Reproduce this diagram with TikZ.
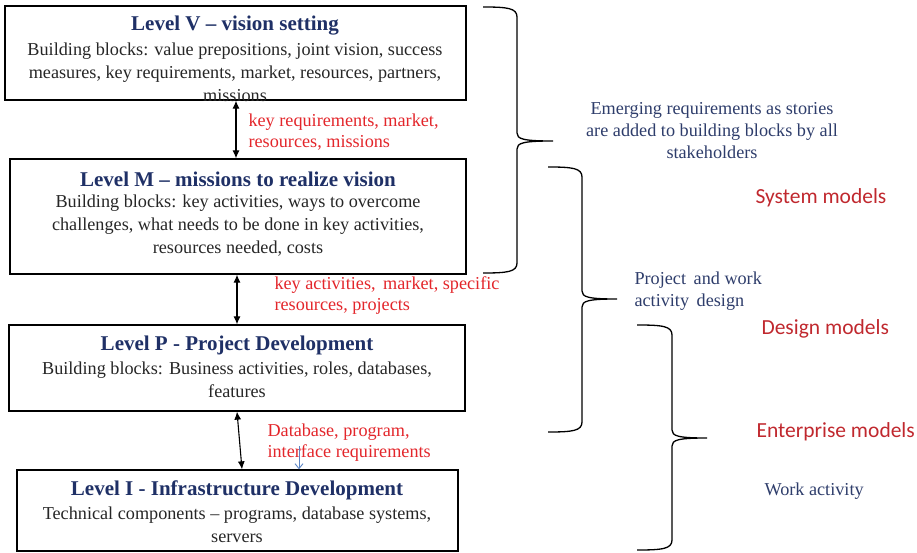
\documentclass[tikz,border=0pt]{standalone}
\usepackage{fontspec}
\setmainfont{Liberation Serif}
\newfontfamily\calib{Carlito}
\usetikzlibrary{arrows.meta}
\definecolor{navy}{HTML}{1F3066}
\definecolor{lblred}{HTML}{E3262B}
\definecolor{sansred}{HTML}{C0282E}
\definecolor{bluetext}{HTML}{2E3D6B}
\definecolor{bodygray}{HTML}{262626}
\definecolor{smallblue}{HTML}{5B84C4}
\newcommand\mybrace[6]{% x0, x1, xt, ytop, ymid, ybot
  \draw[bracel] (#1,#4) .. controls (#2-10,#4) and (#2,#4+1) .. (#2,#4+10)
    -- (#2,#5-8) .. controls (#2,#5-2) and (#2+6,#5) .. (#3,#5)
    .. controls (#2+6,#5) and (#2,#5+2) .. (#2,#5+8)
    -- (#2,#6-10) .. controls (#2,#6-1) and (#2-10,#6) .. (#1,#6);}
\begin{document}
\begin{tikzpicture}[x=1pt,y=-1pt]
\useasboundingbox (0,0) rectangle (917,553);
\tikzset{
 box/.style={draw=black, line width=1.3pt, inner sep=0pt},
 ttl/.style={font=\fontsize{21}{24}\selectfont\bfseries, text=navy},
 body/.style={font=\fontsize{18.2}{23}\selectfont, align=center, text=bodygray},
 lbl/.style={font=\fontsize{18.2}{21}\selectfont, align=left, text=lblred, anchor=west},
 note/.style={font=\fontsize{18.2}{22}\selectfont, text=bluetext},
 model/.style={font=\calib\fontsize{21.5}{24}\selectfont, text=sansred, anchor=west},
 conn/.style={{Latex[length=8pt,width=7pt]}-{Latex[length=8pt,width=7pt]}, line width=1.1pt},
 bracel/.style={line width=1.3pt},
}
% boxes
\node[box, minimum width=461pt, minimum height=94pt] (V) at (235.5,53) {};
\node[box, minimum width=456pt, minimum height=115pt] (M) at (238,216.5) {};
\node[box, minimum width=456pt, minimum height=86pt] (P) at (237,368) {};
\node[box, minimum width=441pt, minimum height=81pt] (I) at (237.5,510.5) {};
% box texts
\node[ttl] (tV) at (235,26) {Level V -- vision setting};
\node[body] (bV) at (235,72) {Building blocks: value prepositions, joint vision, success\\measures, key requirements, market, resources, partners,\\missions};
\node[ttl] (tM) at (238,179) {Level M -- missions to realize vision};
\node[body] (bM) at (238,226) {Building blocks: key activities, ways to overcome\\challenges, what needs to be done in key activities,\\resources needed, costs};
\node[ttl] (tP) at (237,345) {Level P - Project Development};
\node[body] (bP) at (237,380) {Building blocks: Business activities, roles, databases,\\features};
\node[ttl] (tI) at (237,490) {Level I - Infrastructure Development};
\node[body] (bI) at (237,525) {Technical components -- programs, database systems,\\servers};
% connectors
\coordinate (a1) at (236,0);
\coordinate (a2) at (237,0);
\coordinate (a3) at (237,0);
\coordinate (a4) at (242,0);
\draw[conn] (V.south -| a1) -- (M.north -| a1);
\draw[conn] (M.south -| a2) -- (P.north -| a2);
\draw[conn] (P.south -| a3) -- (I.north -| a4);
% red labels
\node[lbl] (l1) at (245,132) {key requirements, market,\\resources, missions};
\node[lbl] (l2) at (271,296) {key activities,\, market, specific\\resources, projects};
\node[lbl] (l3) at (264,443) {Database, program,\\interface requirements};
% small blue arrow
\coordinate (sb) at (299,446);
\draw[smallblue, line width=0.9pt, -{Straight Barb[length=5pt,width=8pt]}] (sb) -- (sb |- I.north);
% braces
\mybrace{483}{517}{553}{7}{141}{273}
\mybrace{548}{582}{617}{167}{299}{432}
\mybrace{637}{672}{707}{325}{438}{550}
% notes
\node[note, align=center] (n1) at (712,131) {Emerging requirements as stories\\are added to building blocks by all\\stakeholders};
\node[note, align=left, anchor=west] (n2) at (631,291) {Project\, and work\\activity\, design};
\node[note, anchor=west] (n3) at (761,491) {Work activity};
\node[model] (m1) at (752,198) {System models};
\node[model] (m2) at (758,329) {Design models};
\node[model] (m3) at (753,432) {Enterprise models};
\end{tikzpicture}
\end{document}
